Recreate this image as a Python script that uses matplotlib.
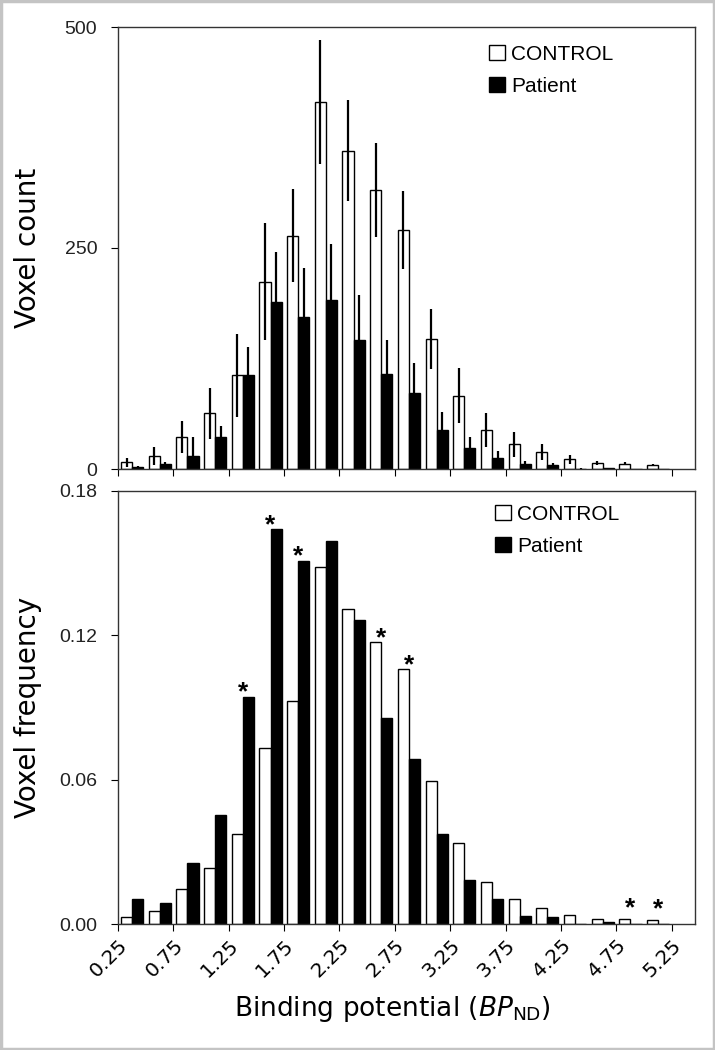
import numpy as np
import matplotlib
matplotlib.use("Agg")
from matplotlib import pyplot as plt
from matplotlib.patches import Patch, Rectangle

# bins of binding potential (left edges, width 0.25)
bin_left = [0.25, 0.50, 0.75, 1.00, 1.25, 1.50, 1.75, 2.00, 2.25, 2.50,
            2.75, 3.00, 3.25, 3.50, 3.75, 4.00, 4.25, 4.50, 4.75, 5.00]

# top: voxel count (mean and error)
control_count = [7.5, 15, 36, 63, 106, 212, 264, 415, 360, 316,
                 270, 147, 83, 44, 28, 19, 11, 7, 6, 5]
control_err = [5, 10, 18, 29, 47, 66, 53, 70, 57, 53,
               44, 34, 31, 19, 14, 9, 5, 2.5, 2, 1]
patient_count = [2, 5.6, 15, 36, 106, 189, 172, 191, 146, 107,
                 86, 44, 24, 13, 5.6, 5, 0.5, 1, 0, 0]
patient_err = [1, 2, 21, 13, 32, 56, 55, 63, 51, 39,
               34, 20, 12, 7, 3, 2, 0.5, 0.5, 0, 0]

# bottom: voxel frequency
control_freq = [0.0032, 0.0057, 0.0147, 0.0234, 0.0374, 0.0731, 0.0928, 0.1485, 0.1308, 0.1173,
                0.1060, 0.0595, 0.0339, 0.0174, 0.0107, 0.0066, 0.0039, 0.0024, 0.0020, 0.0017]
patient_freq = [0.0105, 0.0090, 0.0253, 0.0454, 0.0945, 0.1640, 0.1510, 0.1590, 0.1263, 0.0858,
                0.0685, 0.0375, 0.0184, 0.0107, 0.0035, 0.0032, 0.0001, 0.0010, 0.0, 0.0]

# significant bins: (bin index, group)
stars = [(4, "patient"), (5, "patient"), (6, "patient"),
         (9, "control"), (10, "control"), (18, "control"), (19, "control")]

xticks = [0.25, 0.75, 1.25, 1.75, 2.25, 2.75, 3.25, 3.75, 4.25, 4.75, 5.25]

left = np.array(bin_left)
w = 0.1
x_c = left + 0.077
x_p = left + 0.177

fig = plt.figure(figsize=(7.15, 10.5), dpi=100)
fig.patches.append(Rectangle((0.0015, 0.001), 0.997, 0.998, transform=fig.transFigure,
                             fill=False, edgecolor="#c4c4c4", linewidth=2.5))

ax1 = fig.add_axes([118 / 715, 1 - 469 / 1050, 577 / 715, 442 / 1050])
ax2 = fig.add_axes([118 / 715, 1 - 924.3 / 1050, 577 / 715, 433.6 / 1050])

# Voxel count
ax1.bar(x_c, control_count, w, color="white", edgecolor="black", linewidth=1)
ax1.bar(x_p, patient_count, w, color="black", edgecolor="black", linewidth=1)
ax1.errorbar(x_c, control_count, yerr=control_err, fmt="none", ecolor="black", elinewidth=1.6, capsize=0)
ax1.errorbar(x_p, patient_count, yerr=patient_err, fmt="none", ecolor="black", elinewidth=1.6, capsize=0)
ax1.set_ylim(0, 500)
ax1.set_yticks([0, 250, 500])
ax1.set_xticklabels([])

# Voxel frequency
ax2.bar(x_c, control_freq, w, color="white", edgecolor="black", linewidth=1)
ax2.bar(x_p, patient_freq, w, color="black", edgecolor="black", linewidth=1)
ax2.set_ylim(0, 0.18)
ax2.set_yticks([0, 0.06, 0.12, 0.18])
ax2.set_yticklabels(["0.00", "0.06", "0.12", "0.18"])

for i, grp in stars:
    top = patient_freq[i] if grp == "patient" else control_freq[i]
    off = -0.0013 if top > 0.01 else 0.0018
    ax2.text(left[i] + 0.127, top + off, "*", ha="center", va="baseline",
             fontsize=19, fontweight="bold", family="Liberation Sans")

for ax in (ax1, ax2):
    ax.set_xlim(0.25, 5.46)
    ax.set_xticks(xticks)
    ax.tick_params(direction="out", length=5, width=0.8, colors="black")
    ax.tick_params(axis="y", pad=10)
    for lab in ax.get_yticklabels():
        lab.set_family("Liberation Sans")
        lab.set_fontsize(14)
        lab.set_color("#222222")
    for s in ax.spines.values():
        s.set_linewidth(1.0)
        s.set_color("#333333")

ax2.set_xticklabels([f"{t:.2f}" for t in xticks], rotation=45, ha="right",
                    rotation_mode="anchor", fontsize=14.5, family="DejaVu Sans")

ax1.set_ylabel("Voxel count", fontsize=20, family="DejaVu Sans")
ax2.set_ylabel("Voxel frequency", fontsize=20, family="DejaVu Sans")
ax1.yaxis.set_label_coords(-0.132, 0.5)
ax2.yaxis.set_label_coords(-0.132, 0.5)
ax2.set_xlabel(r"Binding potential ($\mathit{BP}_{\mathregular{ND}}$)", fontsize=19,
               family="DejaVu Sans")
ax2.xaxis.set_label_coords(0.475, -0.16)

handles = [Patch(facecolor="white", edgecolor="black", linewidth=1),
           Patch(facecolor="black", edgecolor="black", linewidth=1)]
leg_kw = dict(frameon=False, loc="upper left", handlelength=0.75, handleheight=0.75,
              handletextpad=0.3, labelspacing=0.6, borderpad=0, borderaxespad=0,
              prop={"family": "Liberation Sans", "size": 15})
ax1.legend(handles, ["CONTROL", "Patient"], bbox_to_anchor=(489 / 715, 1 - 45 / 1050),
           bbox_transform=fig.transFigure, **leg_kw)
ax2.legend(handles, ["CONTROL", "Patient"], bbox_to_anchor=(495 / 715, 1 - 505 / 1050),
           bbox_transform=fig.transFigure, **leg_kw)

plt.savefig("out.png", dpi=100)
